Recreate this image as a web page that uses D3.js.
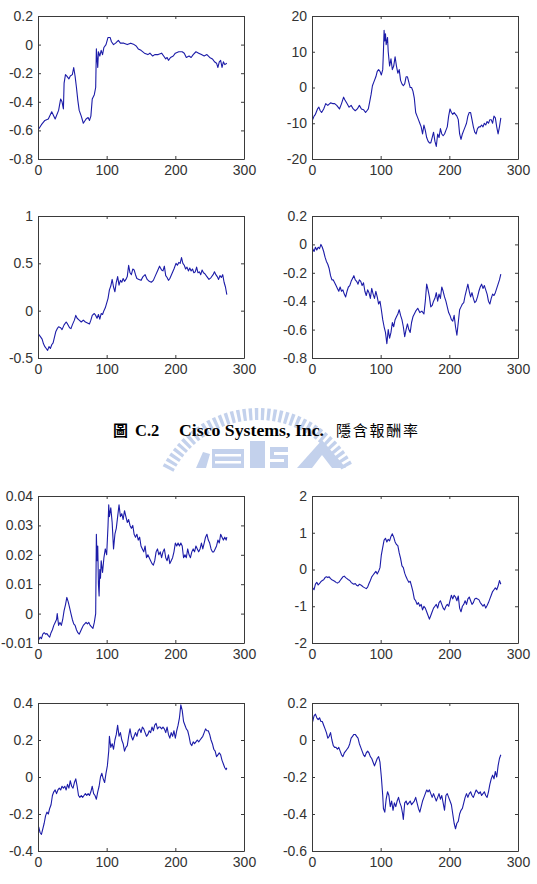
<!DOCTYPE html>
<html>
<head>
<meta charset="utf-8">
<script src="https://cdn.jsdelivr.net/npm/d3@7"></script>
<style>
  html, body { margin: 0; padding: 0; background: #fff; }
  svg { display: block; }
</style>
</head>
<body>
<svg id="chart" width="537" height="884"></svg>
<script>
// ---------------- DATA ----------------
const xTicks = [0, 100, 200, 300];

// Panel 1 (top-left)
const p1YTicks = [-0.8, -0.6, -0.4, -0.2, 0, 0.2];
const p1x = [1,5,10,15,20,25,30,33,35,37,38,40,42,45,47,50,52,54,56,58,60,63,66,70,73,75,77,79,82,84,85,86,87,88,90,92,94,96,99,102,105,107,110,113,117,120,125,130,135,140,143,146,150,155,160,163,167,170,175,180,183,186,188,190,193,197,200,205,210,213,216,220,223,226,230,234,238,242,246,250,254,257,260,262,264,266,268,270,272,275];
const p1y = [-0.59,-0.56,-0.53,-0.52,-0.47,-0.52,-0.46,-0.38,-0.40,-0.45,-0.27,-0.21,-0.22,-0.24,-0.22,-0.21,-0.16,-0.22,-0.30,-0.39,-0.46,-0.50,-0.55,-0.52,-0.51,-0.53,-0.50,-0.38,-0.35,-0.30,-0.03,-0.10,-0.16,-0.05,-0.08,-0.04,-0.07,-0.02,0.00,0.05,0.05,0.02,0.00,0.01,0.03,0.01,0.01,0.00,0.01,0.00,-0.01,-0.03,-0.04,-0.06,-0.07,-0.06,-0.08,-0.07,-0.07,-0.06,-0.08,-0.10,-0.09,-0.11,-0.09,-0.08,-0.06,-0.05,-0.05,-0.06,-0.09,-0.08,-0.09,-0.07,-0.05,-0.06,-0.07,-0.08,-0.07,-0.09,-0.10,-0.12,-0.13,-0.16,-0.12,-0.11,-0.16,-0.12,-0.14,-0.13];

// Panel 2 (top-right)
const p2YTicks = [-20, -10, 0, 10, 20];
const p2x = [1,3,5,8,10,12,14,17,20,23,27,30,33,36,40,43,46,48,51,54,57,60,63,66,69,72,75,78,80,82,84,86,88,90,93,95,97,99,101,103,104,105,106,107,108,110,111,113,115,117,119,121,123,125,127,129,131,133,135,137,139,141,143,145,147,149,151,153,155,157,159,161,163,165,167,169,171,173,175,177,179,181,183,185,187,189,191,193,195,197,199,201,203,205,207,209,211,213,215,217,219,221,223,225,227,229,231,233,235,237,239,241,243,245,247,249,251,253,255,257,259,261,263,265,267,269,271,273,275];
const p2y = [-9,-8,-7.5,-6,-5.5,-6.5,-7,-6,-4.5,-5,-4.3,-4.5,-4.5,-5,-6,-4.5,-2.7,-3.5,-4.5,-5.5,-5,-6,-6.5,-6,-5,-6,-6.2,-7,-6.5,-6,-4,-2,0.5,1.5,3,4.5,5,4.5,3.5,5,10,16,13,15,12,14,10,6,8,5,6,8.6,6,4,5,2,1,0.5,1,3,3,1.5,0,0,-1,-3,-7,-8,-9,-10,-11,-13,-10.5,-12,-14,-15,-15.5,-15.5,-14,-12.5,-15,-16.5,-13,-14,-11.5,-13,-13.5,-13,-12,-11,-8,-6,-7,-7.5,-7,-7.5,-8,-9,-13,-14.5,-13,-12,-11,-10,-8,-7,-7,-9,-11,-12.5,-13,-11.5,-11,-11,-10.5,-11,-10,-10.5,-9.5,-10,-9,-9,-10,-8,-8.5,-11,-13,-11,-8.5];

// Panel 3 (row 2 left)
const p3YTicks = [-0.5, 0, 0.5, 1];
const p3x = [1,4,6,8,10,12,14,16,18,20,22,24,26,28,30,33,35,38,41,43,46,48,50,53,55,57,60,63,66,69,72,75,77,79,82,84,86,88,90,92,94,96,98,100,102,104,106,108,110,112,114,116,118,120,122,124,126,128,130,132,134,136,138,140,142,144,147,150,153,156,159,162,165,168,171,174,177,180,182,184,186,188,190,192,195,198,201,203,205,207,209,211,213,215,217,219,221,223,225,227,229,231,233,235,237,239,241,243,246,249,252,255,257,259,261,263,265,267,269,271,273,275];
const p3y = [-0.25,-0.28,-0.30,-0.35,-0.38,-0.40,-0.42,-0.38,-0.40,-0.36,-0.34,-0.28,-0.22,-0.19,-0.17,-0.18,-0.20,-0.15,-0.12,-0.14,-0.18,-0.19,-0.15,-0.10,-0.05,-0.08,-0.10,-0.12,-0.10,-0.12,-0.13,-0.14,-0.10,-0.05,-0.03,-0.05,-0.08,-0.04,-0.09,-0.03,-0.04,0.00,0.03,0.08,0.13,0.22,0.26,0.33,0.25,0.20,0.30,0.36,0.27,0.32,0.30,0.34,0.31,0.33,0.36,0.48,0.40,0.38,0.44,0.43,0.38,0.34,0.33,0.32,0.36,0.38,0.33,0.31,0.30,0.32,0.37,0.42,0.47,0.43,0.42,0.47,0.37,0.35,0.32,0.34,0.39,0.44,0.50,0.48,0.51,0.50,0.56,0.50,0.48,0.44,0.46,0.42,0.45,0.42,0.44,0.40,0.41,0.46,0.40,0.41,0.38,0.43,0.40,0.39,0.36,0.33,0.35,0.38,0.41,0.38,0.36,0.33,0.37,0.35,0.38,0.30,0.25,0.17];

// Panel 4 (row 2 right)
const p4YTicks = [-0.8, -0.6, -0.4, -0.2, 0, 0.2];
const p4x = [1,3,5,7,9,11,13,15,17,19,21,23,25,27,29,31,33,35,37,39,41,43,45,47,49,51,53,55,57,59,61,63,65,67,69,71,73,75,77,79,81,83,85,87,89,91,93,95,97,99,101,103,105,107,109,111,113,115,117,119,121,123,125,127,129,131,133,135,137,139,141,143,145,147,149,151,154,157,160,163,165,167,169,171,173,175,177,179,181,183,185,187,189,191,193,195,197,199,201,203,205,207,209,211,213,215,217,219,221,223,225,227,229,231,233,235,237,239,241,243,245,247,249,251,253,255,257,259,261,263,265,267,269,271,273,275];
const p4y = [-0.03,-0.05,-0.02,-0.04,-0.02,-0.03,0.00,-0.02,-0.05,-0.09,-0.12,-0.14,-0.17,-0.22,-0.25,-0.25,-0.27,-0.29,-0.31,-0.33,-0.30,-0.33,-0.32,-0.35,-0.37,-0.33,-0.30,-0.29,-0.26,-0.24,-0.22,-0.25,-0.26,-0.28,-0.25,-0.26,-0.29,-0.27,-0.33,-0.36,-0.32,-0.34,-0.38,-0.31,-0.35,-0.38,-0.33,-0.37,-0.42,-0.40,-0.46,-0.53,-0.58,-0.62,-0.70,-0.60,-0.66,-0.62,-0.55,-0.58,-0.53,-0.51,-0.49,-0.46,-0.50,-0.53,-0.58,-0.65,-0.60,-0.56,-0.60,-0.62,-0.55,-0.51,-0.49,-0.47,-0.45,-0.48,-0.47,-0.49,-0.40,-0.28,-0.32,-0.37,-0.44,-0.43,-0.40,-0.38,-0.34,-0.40,-0.35,-0.38,-0.30,-0.33,-0.37,-0.40,-0.44,-0.48,-0.50,-0.53,-0.54,-0.50,-0.58,-0.64,-0.55,-0.46,-0.44,-0.42,-0.41,-0.36,-0.32,-0.28,-0.33,-0.37,-0.34,-0.38,-0.41,-0.40,-0.37,-0.33,-0.30,-0.28,-0.31,-0.29,-0.32,-0.35,-0.40,-0.42,-0.38,-0.35,-0.36,-0.34,-0.31,-0.28,-0.25,-0.21];

// Panel 5 (row 3 left)
const p5YTicks = [-0.01, 0, 0.01, 0.02, 0.03, 0.04];
const p5x = [1,3,5,7,9,11,13,15,17,19,21,23,25,27,28,30,32,34,36,38,40,42,44,46,48,50,52,54,56,58,60,62,64,66,68,70,72,74,76,78,80,82,84,85,86,87,88,89,90,91,92,94,96,98,100,102,103,104,106,108,110,112,114,116,118,120,122,124,126,128,130,132,134,136,138,140,142,144,146,148,150,152,154,156,158,160,162,164,166,168,170,172,174,176,178,180,182,184,186,188,190,192,194,196,198,200,202,204,206,208,210,212,214,216,218,220,222,224,226,228,230,232,234,236,238,240,242,244,246,248,250,252,254,256,258,260,262,264,266,268,270,272,274,275];
const p5y = [-0.009,-0.008,-0.0085,-0.007,-0.0065,-0.007,-0.0068,-0.0075,-0.008,-0.0065,-0.0055,-0.004,-0.003,-0.002,0.000,-0.004,-0.003,-0.004,-0.002,0.001,0.003,0.0055,0.004,0.002,0.0,-0.002,-0.0035,-0.004,-0.0055,-0.0065,-0.007,-0.006,-0.005,-0.004,-0.0035,-0.003,-0.0035,-0.003,-0.004,-0.0045,-0.005,-0.003,0.000,0.027,0.018,0.023,0.010,0.006,0.015,0.012,0.018,0.014,0.019,0.022,0.020,0.030,0.037,0.033,0.036,0.031,0.022,0.027,0.029,0.033,0.037,0.033,0.034,0.032,0.035,0.033,0.031,0.032,0.030,0.029,0.030,0.027,0.026,0.027,0.025,0.026,0.023,0.022,0.021,0.023,0.019,0.020,0.019,0.018,0.017,0.0165,0.018,0.021,0.022,0.020,0.021,0.019,0.021,0.022,0.019,0.018,0.020,0.017,0.018,0.019,0.021,0.024,0.023,0.024,0.023,0.024,0.023,0.019,0.020,0.019,0.022,0.020,0.019,0.021,0.022,0.021,0.023,0.022,0.021,0.022,0.024,0.022,0.024,0.026,0.027,0.025,0.024,0.022,0.021,0.021,0.022,0.023,0.025,0.024,0.027,0.026,0.025,0.026,0.025,0.026];

// Panel 6 (row 3 right)
const p6YTicks = [-2, -1, 0, 1, 2];
const p6x = [1,3,5,7,9,11,13,15,17,19,21,23,25,27,29,31,33,35,37,39,41,43,45,47,49,51,53,55,57,59,61,63,65,67,69,71,73,75,77,79,81,83,85,87,89,91,93,95,97,99,101,103,105,107,109,111,113,115,117,119,121,123,125,127,129,131,133,135,137,139,141,143,145,147,149,151,153,155,157,159,161,163,165,167,169,171,173,175,177,179,181,183,185,187,189,191,193,195,197,199,201,203,205,207,209,211,213,215,217,219,221,223,225,227,229,231,233,235,237,239,241,243,245,247,249,251,253,255,257,259,261,263,265,267,269,271,273,275];
const p6y = [-0.50,-0.55,-0.40,-0.35,-0.42,-0.38,-0.33,-0.30,-0.28,-0.22,-0.20,-0.22,-0.20,-0.25,-0.28,-0.30,-0.32,-0.35,-0.37,-0.35,-0.30,-0.25,-0.20,-0.18,-0.22,-0.25,-0.28,-0.30,-0.35,-0.38,-0.40,-0.38,-0.43,-0.45,-0.40,-0.42,-0.45,-0.48,-0.50,-0.52,-0.48,-0.38,-0.30,-0.20,-0.15,-0.10,-0.05,-0.12,-0.05,0.05,0.40,0.60,0.80,0.85,0.75,0.82,0.78,0.90,0.97,0.88,0.75,0.68,0.65,0.45,0.30,0.10,0.05,-0.10,-0.20,-0.28,-0.35,-0.32,-0.45,-0.60,-0.80,-0.85,-0.95,-0.90,-1.00,-0.95,-1.10,-1.00,-1.05,-1.15,-1.25,-1.35,-1.25,-1.15,-1.05,-1.00,-0.95,-1.05,-0.90,-0.85,-0.95,-1.05,-1.10,-1.00,-0.95,-1.00,-0.85,-0.70,-0.80,-0.70,-0.75,-0.85,-0.72,-1.05,-1.15,-1.00,-0.95,-0.85,-0.95,-0.80,-0.75,-0.85,-0.95,-0.90,-0.80,-0.78,-0.80,-0.82,-0.90,-0.95,-1.00,-0.95,-1.05,-0.98,-0.90,-0.80,-0.70,-0.60,-0.55,-0.50,-0.55,-0.45,-0.30,-0.40];

// Panel 7 (row 4 left)
const p7YTicks = [-0.4, -0.2, 0, 0.2, 0.4];
const p7x = [1,3,5,7,9,11,13,15,17,19,21,23,25,27,29,31,33,35,37,39,41,43,45,47,49,51,53,55,57,59,61,63,65,67,69,71,73,75,77,79,81,83,85,87,89,91,93,95,97,99,101,103,104,106,108,110,112,114,116,118,120,122,124,126,128,130,132,134,136,138,140,142,144,146,148,150,152,154,156,158,160,162,164,166,168,170,172,174,176,178,180,182,184,186,188,190,192,194,196,198,200,202,204,206,208,210,212,214,216,218,220,222,224,226,228,230,232,234,236,238,240,242,244,246,248,250,252,254,256,258,260,262,264,266,268,270,272,274,275];
const p7y = [-0.27,-0.30,-0.31,-0.28,-0.25,-0.21,-0.19,-0.20,-0.17,-0.15,-0.10,-0.08,-0.07,-0.09,-0.07,-0.06,-0.07,-0.05,-0.06,-0.05,-0.07,-0.04,-0.06,-0.02,-0.05,-0.06,-0.03,-0.01,-0.05,-0.10,-0.11,-0.10,-0.11,-0.10,-0.09,-0.10,-0.09,-0.10,-0.08,-0.05,-0.09,-0.10,-0.12,-0.08,-0.05,0.00,0.02,-0.01,-0.03,0.02,0.06,0.14,0.22,0.16,0.18,0.15,0.20,0.23,0.28,0.22,0.24,0.20,0.18,0.14,0.16,0.17,0.22,0.26,0.22,0.20,0.22,0.24,0.22,0.25,0.26,0.24,0.27,0.26,0.24,0.22,0.23,0.25,0.24,0.27,0.25,0.28,0.29,0.26,0.27,0.27,0.26,0.27,0.26,0.24,0.27,0.23,0.21,0.24,0.22,0.25,0.21,0.25,0.28,0.32,0.39,0.36,0.30,0.28,0.26,0.25,0.22,0.18,0.17,0.19,0.18,0.19,0.20,0.19,0.20,0.21,0.22,0.24,0.26,0.25,0.25,0.23,0.20,0.18,0.15,0.14,0.11,0.12,0.13,0.12,0.09,0.07,0.05,0.04,0.05];

// Panel 8 (row 4 right)
const p8YTicks = [-0.6, -0.4, -0.2, 0, 0.2];
const p8x = [1,3,5,7,9,11,13,15,17,19,21,23,25,27,29,31,33,35,37,39,41,43,45,47,49,51,53,55,57,59,61,63,65,67,69,71,73,75,77,79,81,83,85,87,89,91,93,95,97,99,101,103,104,106,108,110,112,114,116,118,120,122,124,126,128,130,132,133,135,137,139,141,143,145,147,149,151,153,155,157,159,161,163,165,167,169,171,173,175,177,179,181,183,185,187,189,191,193,195,197,199,201,203,205,207,209,211,213,215,217,219,221,223,225,227,229,231,233,235,237,239,241,243,245,247,249,251,253,255,257,259,261,263,265,267,269,271,273,275];
const p8y = [0.10,0.13,0.14,0.12,0.11,0.12,0.10,0.10,0.08,0.06,0.04,0.01,0.02,0.04,0.00,-0.03,-0.04,-0.04,-0.05,-0.04,-0.06,-0.08,-0.09,-0.07,-0.06,-0.05,-0.04,-0.02,0.01,0.02,0.03,0.03,0.02,0.01,-0.02,-0.04,-0.06,-0.08,-0.09,-0.07,-0.06,-0.07,-0.09,-0.10,-0.12,-0.14,-0.12,-0.10,-0.09,-0.12,-0.20,-0.30,-0.37,-0.39,-0.32,-0.28,-0.30,-0.36,-0.33,-0.38,-0.34,-0.36,-0.33,-0.31,-0.34,-0.36,-0.40,-0.43,-0.34,-0.33,-0.35,-0.34,-0.33,-0.35,-0.34,-0.33,-0.31,-0.34,-0.37,-0.39,-0.36,-0.33,-0.31,-0.29,-0.27,-0.28,-0.27,-0.29,-0.31,-0.29,-0.31,-0.33,-0.31,-0.29,-0.32,-0.30,-0.34,-0.38,-0.30,-0.29,-0.31,-0.33,-0.35,-0.40,-0.45,-0.48,-0.45,-0.44,-0.40,-0.38,-0.37,-0.34,-0.31,-0.29,-0.31,-0.29,-0.28,-0.30,-0.31,-0.29,-0.27,-0.28,-0.29,-0.28,-0.30,-0.29,-0.28,-0.30,-0.31,-0.28,-0.24,-0.21,-0.19,-0.21,-0.17,-0.20,-0.14,-0.10,-0.08];

const captionParts = ["圖", "C.2", "Cisco Systems, Inc.", "隱含報酬率"];

// ---------------- LAYOUT ----------------
const panels = [
  { xs: p1x, ys: p1y, ticks: p1YTicks, box: [38, 16, 244, 159] },
  { xs: p2x, ys: p2y, ticks: p2YTicks, box: [312, 16, 518, 159] },
  { xs: p3x, ys: p3y, ticks: p3YTicks, box: [38, 216, 244, 358] },
  { xs: p4x, ys: p4y, ticks: p4YTicks, box: [312, 216, 518, 358] },
  { xs: p5x, ys: p5y, ticks: p5YTicks, box: [38, 496, 244, 643] },
  { xs: p6x, ys: p6y, ticks: p6YTicks, box: [312, 496, 518, 643] },
  { xs: p7x, ys: p7y, ticks: p7YTicks, box: [38, 703, 244, 851] },
  { xs: p8x, ys: p8y, ticks: p8YTicks, box: [312, 703, 518, 851] }
];

const svg = d3.select("#chart");
svg.append("rect").attr("width", 537).attr("height", 884).attr("fill", "#fff");

const AXIS_COLOR = "#3a3a3a";
const TEXT_COLOR = "#333";
const LINE_COLOR = "#1c1ca8";
const FONT = "'Liberation Sans', Arial, sans-serif";
const fmt = d => String(Math.round(d * 10000) / 10000);

// ---- watermark (faint seal behind caption) ----
const WM = "#c3d1ec";
const wm = svg.append("g").attr("fill", WM).attr("stroke", "none");
{
  const cx = 258, cy = 515, r0 = 95, r1 = 107;
  const angles = d3.range(-152, -27, 3.4);
  angles.forEach(a => {
    const t = a * Math.PI / 180;
    const w = 0.95 * Math.PI / 180;
    const pts = [
      [cx + r0 * Math.cos(t - w), cy + r0 * Math.sin(t - w)],
      [cx + r1 * Math.cos(t - w), cy + r1 * Math.sin(t - w)],
      [cx + r1 * Math.cos(t + w), cy + r1 * Math.sin(t + w)],
      [cx + r0 * Math.cos(t + w), cy + r0 * Math.sin(t + w)]
    ];
    wm.append("polygon").attr("points", pts.map(p => p.join(",")).join(" "));
  });
  // inner emblem blocks
  wm.append("rect").attr("x", 212).attr("y", 449).attr("width", 32).attr("height", 19);
  wm.append("rect").attr("x", 250).attr("y", 441).attr("width", 15).attr("height", 27);
  wm.append("rect").attr("x", 270).attr("y", 447).attr("width", 18).attr("height", 21);
  wm.append("polygon").attr("points", "297,468 322,440 346,468");
  wm.append("polygon").attr("points", "196,468 203,452 210,454 206,468");
  const wmw = svg.append("g").attr("fill", "#fff");
  wmw.append("rect").attr("x", 215).attr("y", 454).attr("width", 26).attr("height", 2.5);
  wmw.append("rect").attr("x", 215).attr("y", 461).attr("width", 26).attr("height", 2.5);
  wmw.append("rect").attr("x", 274).attr("y", 452).attr("width", 14).attr("height", 3);
  wmw.append("rect").attr("x", 270).attr("y", 459).attr("width", 14).attr("height", 3);
  wmw.append("polygon").attr("points", "312,468 322,455 332,468");
}

// ---- panels ----
panels.forEach(p => {
  const [l, t, r, b] = p.box;
  const x = d3.scaleLinear().domain([xTicks[0], xTicks[xTicks.length - 1]]).range([l, r]);
  const y = d3.scaleLinear().domain([p.ticks[0], p.ticks[p.ticks.length - 1]]).range([b, t]);
  const g = svg.append("g");

  const pts = d3.zip(p.xs, p.ys);
  g.append("path")
    .datum(pts)
    .attr("fill", "none")
    .attr("stroke", LINE_COLOR)
    .attr("stroke-width", 1.1)
    .attr("stroke-linejoin", "round")
    .attr("d", d3.line().x(d => x(d[0])).y(d => y(d[1])));

  const styleAxis = sel => {
    sel.selectAll("path").attr("stroke", AXIS_COLOR).attr("stroke-width", 1);
    sel.selectAll("line").attr("stroke", AXIS_COLOR).attr("stroke-width", 1);
    sel.selectAll("text").attr("fill", TEXT_COLOR).attr("font-family", FONT).attr("font-size", 14);
  };

  g.append("g").attr("transform", `translate(0,${b})`)
    .call(d3.axisBottom(x).tickValues(xTicks).tickSizeInner(-3).tickSizeOuter(0).tickPadding(6).tickFormat(fmt))
    .call(styleAxis);
  g.append("g").attr("transform", `translate(0,${t})`)
    .call(d3.axisTop(x).tickValues(xTicks).tickSizeInner(-3).tickSizeOuter(0).tickFormat(""))
    .call(styleAxis);
  g.append("g").attr("transform", `translate(${l},0)`)
    .call(d3.axisLeft(y).tickValues(p.ticks).tickSizeInner(-3).tickSizeOuter(0).tickPadding(5).tickFormat(fmt))
    .call(styleAxis);
  g.append("g").attr("transform", `translate(${r},0)`)
    .call(d3.axisRight(y).tickValues(p.ticks).tickSizeInner(-3).tickSizeOuter(0).tickFormat(""))
    .call(styleAxis);
});

// ---- caption ----
const cap = svg.append("g").attr("fill", "#000");
cap.append("text").attr("x", 113).attr("y", 436)
  .attr("font-family", "'Noto Sans CJK TC', 'Noto Sans CJK SC', sans-serif")
  .attr("font-weight", "bold").attr("font-size", 15).text(captionParts[0]);
cap.append("text").attr("x", 135).attr("y", 436)
  .attr("font-family", "'Liberation Serif', 'Times New Roman', serif")
  .attr("font-weight", "bold").attr("font-size", 16.5).text(captionParts[1]);
cap.append("text").attr("x", 179).attr("y", 436)
  .attr("font-family", "'Liberation Serif', 'Times New Roman', serif")
  .attr("font-weight", "bold").attr("font-size", 16.5)
  .attr("textLength", 145).attr("lengthAdjust", "spacingAndGlyphs")
  .text(captionParts[2]);
cap.append("text").attr("x", 336).attr("y", 436)
  .attr("font-family", "'Noto Sans CJK TC', 'Noto Sans CJK SC', sans-serif")
  .attr("font-size", 15).attr("textLength", 82).attr("lengthAdjust", "spacing")
  .text(captionParts[3]);
</script>
</body>
</html>
